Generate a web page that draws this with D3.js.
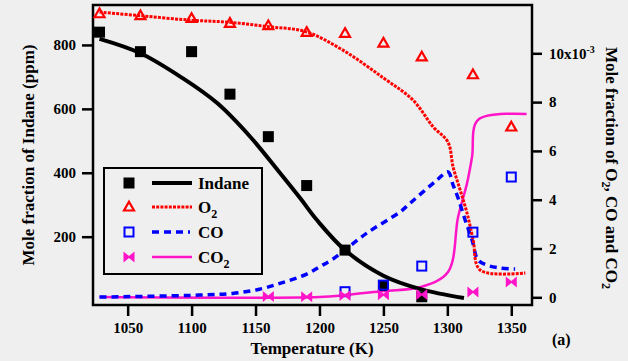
<!DOCTYPE html>
<html><head><meta charset="utf-8">
<script src="https://cdn.jsdelivr.net/npm/d3@7"></script>
<style>
html,body{margin:0;padding:0;background:#efefef;}
svg{display:block;font-family:"Liberation Serif","Times New Roman",serif;}
</style></head>
<body><svg id="c" width="628" height="361"></svg>
<script>
// ---- experimental data ----
const indaneT = [1028, 1060, 1100, 1130, 1160, 1190, 1220, 1250, 1280];
const indanePpm = [840, 779, 779, 646, 513, 360, 158, 47, 12];
const o2T = [1028, 1060, 1100, 1130, 1160, 1190, 1220, 1250, 1280, 1320, 1350];
const o2Val = [11.62, 11.54, 11.43, 11.23, 11.13, 10.86, 10.82, 10.42, 9.85, 9.12, 6.98];
const coT = [1220, 1250, 1280, 1320, 1350];
const coVal = [0.23, 0.5, 1.28, 2.67, 4.93];
const co2T = [1160, 1190, 1220, 1250, 1280, 1320, 1350];
const co2Val = [0.03, 0.02, 0.07, 0.1, 0.12, 0.22, 0.63];

// ---- model curves ----
const indaneModelT = [1028, 1060, 1093, 1120, 1146, 1169, 1185, 1198, 1220, 1250, 1279, 1313];
const indaneModel = [819, 774, 696, 618, 512, 400, 320, 252, 158, 78, 36, 8];
const o2ModelT = [1028, 1060, 1099, 1130, 1160, 1189, 1218, 1250, 1273, 1289, 1300.5, 1304.5, 1310, 1315.4, 1320.2, 1325.6, 1361];
const o2Model = [11.69, 11.54, 11.36, 11.27, 11.09, 10.89, 10.14, 8.99, 8.09, 6.98, 6.36, 5.34, 4.4, 3.45, 2.35, 1.12, 1.0];
const coModelT = [1028, 1106, 1132, 1153, 1171, 1190, 1200, 1210, 1237, 1263, 1271, 1281, 1292, 1300.5, 1304.5, 1308.4, 1313.9, 1319.3, 1324, 1331, 1341, 1353];
const coModel = [0.01, 0.09, 0.16, 0.33, 0.6, 0.95, 1.25, 1.55, 2.63, 3.5, 3.86, 4.32, 4.81, 5.14, 4.6, 4.07, 3.17, 2.35, 1.53, 1.32, 1.2, 1.16];
const co2ModelT = [1028, 1200, 1220, 1250, 1279, 1300.5, 1308.4, 1315.4, 1319.3, 1324, 1362];
const co2Model = [0.01, 0.01, 0.09, 0.26, 0.42, 1.04, 3.29, 4.68, 5.75, 7.27, 7.51];

// ---- ticks ----
const xTicks = [1050, 1100, 1150, 1200, 1250, 1300, 1350];
const yLeftTicks = [200, 400, 600, 800];
const yRightTicks = [0, 2, 4, 6, 8, 10];

const svg = d3.select("#c");
const L = 93, R = 532, T = 5, B = 305;
const x = d3.scaleLinear().domain([1022.9, 1366.2]).range([L, R]);
const yL = d3.scaleLinear().domain([-13.8, 925]).range([B, T]);
const yR = d3.scaleLinear().domain([-0.315, 11.98]).range([B, T]);

const RED = "#ff0000", BLUE = "#0000ff", MAG = "#ff14c8";

// frame
svg.append("rect").attr("x", L).attr("y", T).attr("width", R - L).attr("height", B - T)
  .attr("fill", "none").attr("stroke", "#000").attr("stroke-width", 2.5);

// axes
const fontTick = "bold 15px 'Liberation Serif', serif";
const bottom = svg.append("g").attr("transform", `translate(0,${B})`)
  .call(d3.axisBottom(x).tickValues(xTicks).tickFormat(d3.format("d")).tickSize(11).tickPadding(6));
const left = svg.append("g").attr("transform", `translate(${L},0)`)
  .call(d3.axisLeft(yL).tickValues(yLeftTicks).tickSize(11).tickPadding(6));
const right = svg.append("g").attr("transform", `translate(${R},0)`)
  .call(d3.axisRight(yR).tickValues(yRightTicks).tickSize(10).tickPadding(7).tickFormat(d => d === 10 ? "" : d));
[bottom, left, right].forEach(g => {
  g.select(".domain").remove();
  g.selectAll(".tick line").attr("stroke", "#000").attr("stroke-width", 2.5);
  g.selectAll(".tick text").style("font", fontTick).attr("fill", "#000");
});
// 10x10^-3 label
const t10 = right.selectAll(".tick").filter(d => d === 10).select("text");
t10.text("10x10");
t10.append("tspan").attr("dy", -6).style("font-size", "10px").text("-3");

// line generators
function lineFor(xs, ys, yScale) {
  return d3.line().curve(d3.curveCatmullRom.alpha(0.5))(xs.map((t, i) => [x(t), yScale(ys[i])]));
}
const plot = svg.append("g");
plot.append("path").attr("d", lineFor(co2ModelT, co2Model, yR)).attr("fill", "none")
  .attr("stroke", MAG).attr("stroke-width", 2.5);
plot.append("path").attr("d", lineFor(coModelT, coModel, yR)).attr("fill", "none")
  .attr("stroke", BLUE).attr("stroke-width", 3.5).attr("stroke-dasharray", "7,5");
plot.append("path").attr("d", lineFor(o2ModelT, o2Model, yR)).attr("fill", "none")
  .attr("stroke", RED).attr("stroke-width", 3).attr("stroke-dasharray", "3,1.2");
plot.append("path").attr("d", lineFor(indaneModelT, indaneModel, yL)).attr("fill", "none")
  .attr("stroke", "#000").attr("stroke-width", 4);

// markers
function square(g, cx, cy, s, fill, stroke) {
  g.append("rect").attr("x", cx - s / 2).attr("y", cy - s / 2).attr("width", s).attr("height", s)
    .attr("fill", fill).attr("stroke", stroke).attr("stroke-width", stroke === "none" ? 0 : 2);
}
function tri(g, cx, cy, s, color) {
  const h = s * 0.87;
  g.append("path").attr("d", `M${cx},${cy - h * 0.6}L${cx + s / 2},${cy + h * 0.4}L${cx - s / 2},${cy + h * 0.4}Z`)
    .attr("fill", "none").attr("stroke", color).attr("stroke-width", 2.2);
}
function bow(g, cx, cy, s, color) {
  const w = s / 2;
  g.append("path").attr("d", `M${cx - w},${cy - w}L${cx},${cy - 1}L${cx + w},${cy - w}L${cx + w},${cy + w}L${cx},${cy + 1}L${cx - w},${cy + w}Z`)
    .attr("fill", color);
}
const mk = svg.append("g");
indaneT.forEach((t, i) => square(mk, x(t), yL(indanePpm[i]), 11, "#000", "none"));
coT.forEach((t, i) => square(mk, x(t), yR(coVal[i]), 9, "none", BLUE));
co2T.forEach((t, i) => bow(mk, x(t), yR(co2Val[i]), 11, MAG));
o2T.forEach((t, i) => tri(mk, x(t), yR(o2Val[i]), 10, RED));

// legend
const lg = svg.append("g");
lg.append("rect").attr("x", 104).attr("y", 168).attr("width", 158).attr("height", 106)
  .attr("fill", "#efefef").attr("stroke", "#000").attr("stroke-width", 2);
const entries = [
  {y: 183, name: "Indane", sub: null},
  {y: 207, name: "O", sub: "2"},
  {y: 232, name: "CO", sub: null},
  {y: 257, name: "CO", sub: "2"}
];
square(lg, 129, 183, 11, "#000", "none");
tri(lg, 129, 207, 10, RED);
square(lg, 129, 232, 9, "none", BLUE);
bow(lg, 129, 257, 11, MAG);
lg.append("line").attr("x1", 152).attr("x2", 192).attr("y1", 183).attr("y2", 183).attr("stroke", "#000").attr("stroke-width", 4);
lg.append("line").attr("x1", 152).attr("x2", 192).attr("y1", 207).attr("y2", 207).attr("stroke", RED).attr("stroke-width", 3).attr("stroke-dasharray", "3,1.2");
lg.append("line").attr("x1", 152).attr("x2", 190).attr("y1", 232).attr("y2", 232).attr("stroke", BLUE).attr("stroke-width", 3.5).attr("stroke-dasharray", "7,5");
lg.append("line").attr("x1", 152).attr("x2", 192).attr("y1", 257).attr("y2", 257).attr("stroke", MAG).attr("stroke-width", 2.5);
entries.forEach(e => {
  const tx = lg.append("text").attr("x", 198).attr("y", e.y + 6)
    .style("font", "bold 17px 'Liberation Serif', serif").text(e.name);
  if (e.sub) tx.append("tspan").attr("dy", 5).style("font-size", "12px").text(e.sub);
});

// axis titles
svg.append("text").attr("x", 312).attr("y", 354).attr("text-anchor", "middle")
  .style("font", "bold 17px 'Liberation Serif', serif").text("Temperature (K)");
svg.append("text").attr("transform", "translate(34,155) rotate(-90)").attr("text-anchor", "middle")
  .style("font", "bold 17px 'Liberation Serif', serif").text("Mole fraction of Indane (ppm)");
const rt = svg.append("text").attr("transform", "translate(606,168) rotate(90)").attr("text-anchor", "middle")
  .style("font", "bold 17px 'Liberation Serif', serif");
rt.append("tspan").text("Mole fraction of O");
rt.append("tspan").attr("dy", 4).style("font-size", "12px").text("2");
rt.append("tspan").attr("dy", -4).text(", CO and CO");
rt.append("tspan").attr("dy", 4).style("font-size", "12px").text("2");
svg.append("text").attr("x", 552).attr("y", 345)
  .style("font", "bold 16px 'Liberation Serif', serif").text("(a)");
</script></body></html>
